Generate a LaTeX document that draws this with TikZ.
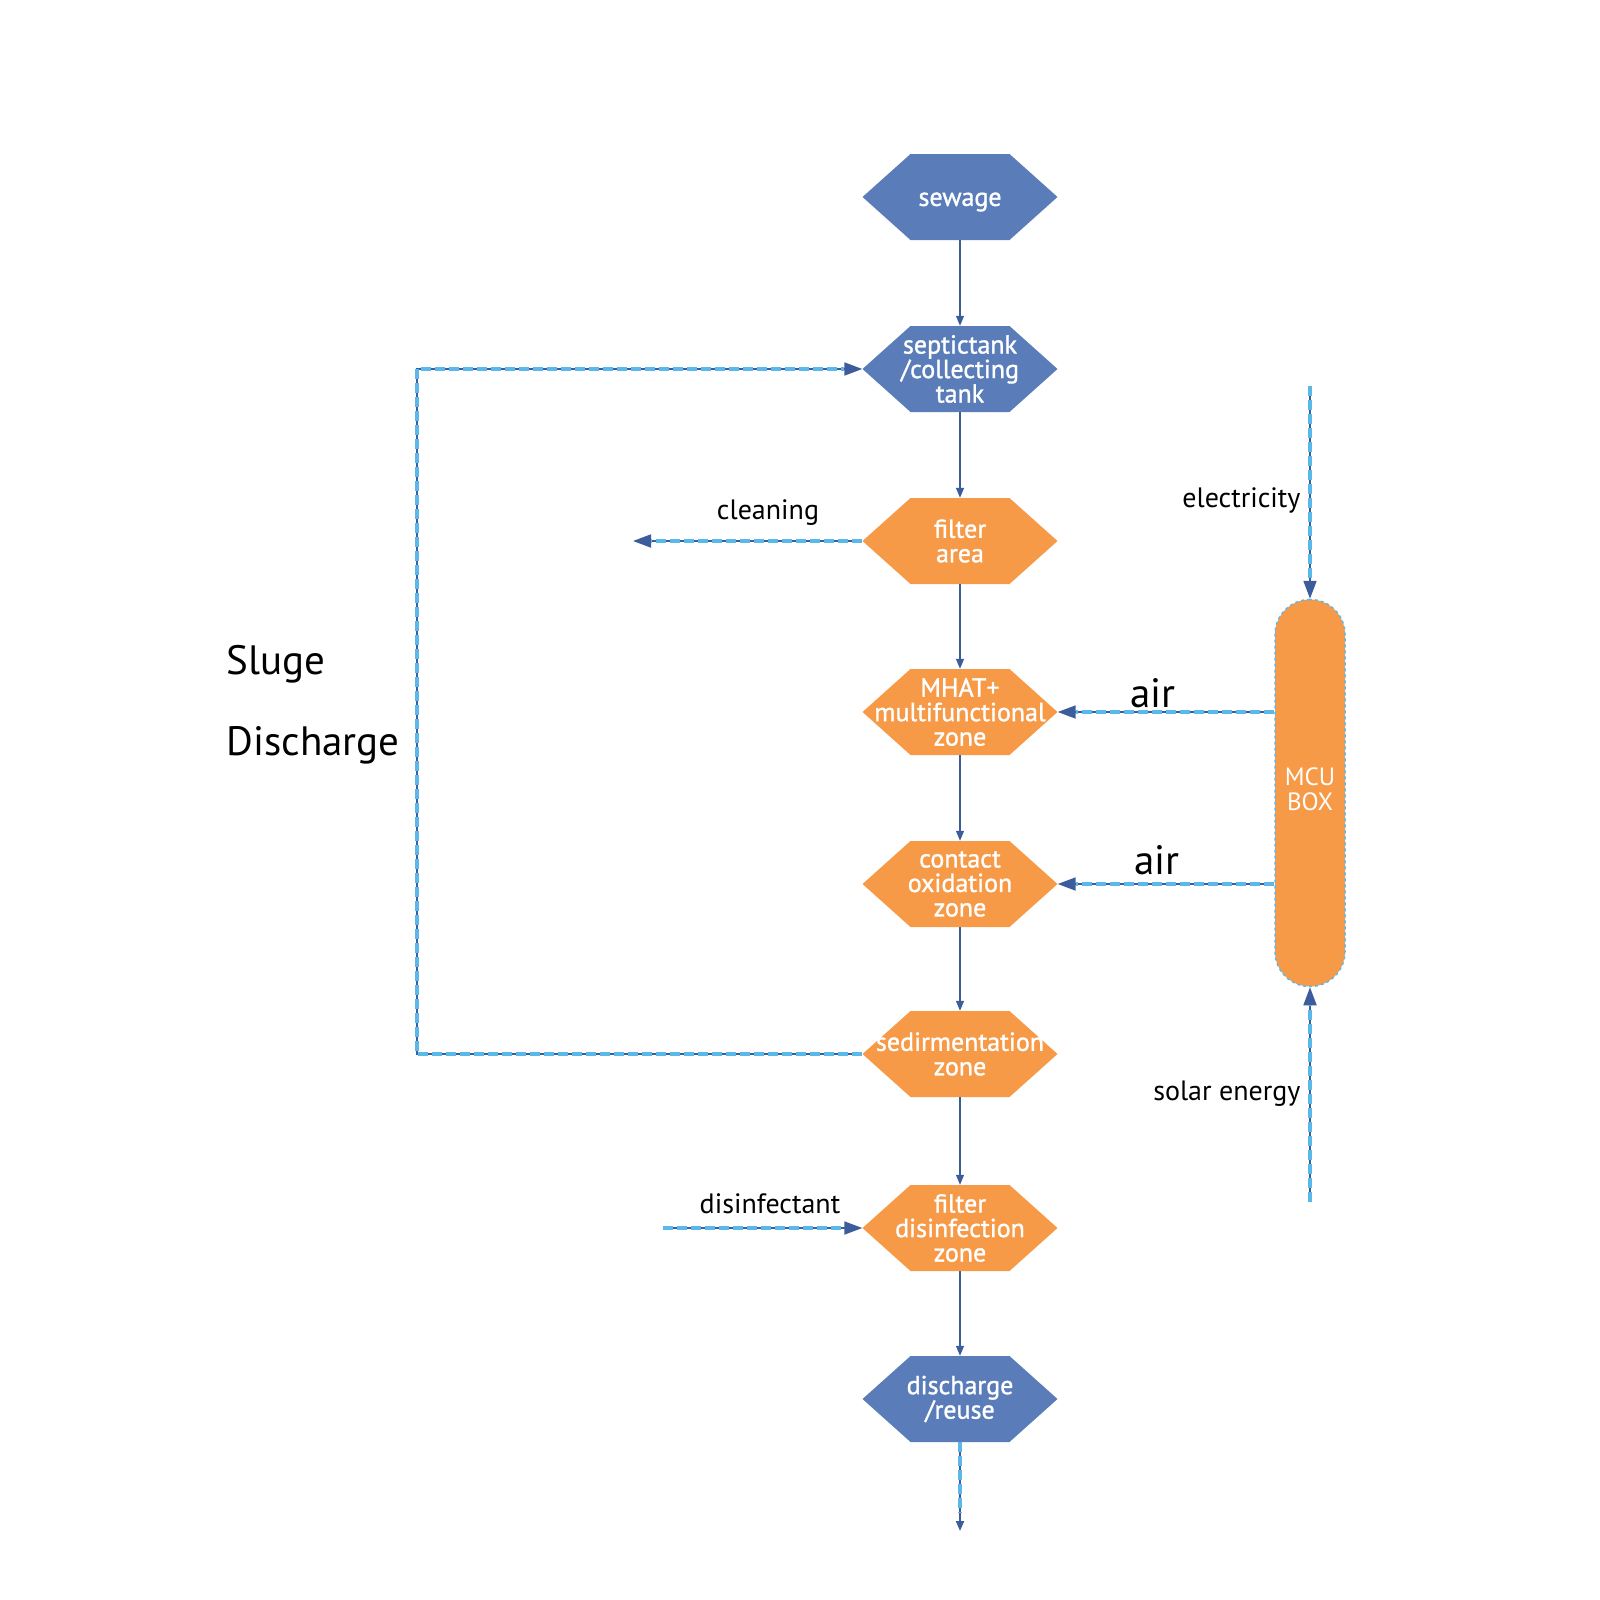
\documentclass[tikz,border=0pt]{standalone}
\usepackage{fontspec}
\setmainfont{PT Sans}
\newfontfamily\hexfont[FakeBold=1.2]{PT Sans}
\usetikzlibrary{arrows.meta,positioning}
\definecolor{hexblue}{HTML}{5A7DB9}
\definecolor{hexorange}{HTML}{F79A48}
\definecolor{lineblue}{HTML}{3C5C9C}
\definecolor{dashblue}{HTML}{5BB9EA}
\tikzset{
  hex/.style={minimum width=195pt, minimum height=86pt, inner sep=0pt,
    text=white, align=center, font=\hexfont\fontsize{26}{24.5}\selectfont,
    path picture={\fill[#1] (path picture bounding box.west)
      -- ([xshift=48pt]path picture bounding box.north west)
      -- ([xshift=-48pt]path picture bounding box.north east)
      -- (path picture bounding box.east)
      -- ([xshift=-48pt]path picture bounding box.south east)
      -- ([xshift=48pt]path picture bounding box.south west) -- cycle;}},
  flow/.style={draw=lineblue, line width=1.2pt, -{Triangle[length=10pt,width=8pt]}},
  feed/.style={draw=lineblue, line width=1.8pt, -{Triangle[length=18pt,width=13pt]},
    postaction={draw=dashblue, line width=4pt, dash pattern=on 10pt off 4pt, -, shorten >=18pt}},
  lbl/.style={font=\fontsize{28}{30}\selectfont},
  bigl/.style={font=\fontsize{41}{44}\selectfont}
}
\begin{document}
\begin{tikzpicture}[x=1pt,y=-1pt]
\useasboundingbox (0,0) rectangle (1600,1600);
\node[hex=hexblue] (sewage) at (960,197) {\raisebox{-5pt}[\height][\depth]{sewage}};
\node[hex=hexblue] (septic) at (960,369) {septictank\\/collecting\\tank};
\node[hex=hexorange] (filter) at (960,541) {filter\\area};
\node[hex=hexorange] (mhat) at (960,712) {MHAT+\\multifunctional\\zone};
\node[hex=hexorange] (contact) at (960,884) {contact\\oxidation\\zone};
\node[hex=hexorange] (sedi) at (960,1054) {sedirmentation\\zone};
\node[hex=hexorange] (fdz) at (960,1228) {filter\\disinfection\\zone};
\node[hex=hexblue] (reuse) at (960,1399) {discharge\\/reuse};
\node[rounded corners=35pt, minimum width=70pt, minimum height=387pt, fill=hexorange,
  draw=dashblue, dashed, line width=1.5pt,
  label={[text=white, align=center, font=\fontsize{25}{24.5}\selectfont, yshift=4pt]center:MCU\\BOX}]
  (mcu) at (1310,793) {};
\coordinate (loop) at (417,1054);
\coordinate (clean) at (633,541);
\coordinate (dis) at (663,1228);
\coordinate (out) at (960,1531);
\coordinate (elec) at (1310,386);
\coordinate (solar) at (1310,1202);
\draw[flow] (sewage.south) -- (septic.north);
\draw[flow] (septic.south) -- (filter.north);
\draw[flow] (filter.south) -- (mhat.north);
\draw[flow] (mhat.south) -- (contact.north);
\draw[flow] (contact.south) -- (sedi.north);
\draw[flow] (sedi.south) -- (fdz.north);
\draw[flow] (fdz.south) -- (reuse.north);
\draw[feed] (sedi.west) -- (loop) |- (septic.west);
\draw[feed] (filter.west) -- (clean);
\draw[feed] (dis) -- (fdz.west);
\draw[feed, -{Triangle[length=10pt,width=8pt]}] (reuse.south) -- (out);
\draw[feed] (mcu.west |- mhat.east) -- (mhat.east);
\draw[feed] (mcu.west |- contact.east) -- (contact.east);
\draw[feed] (elec) -- (mcu.north);
\draw[feed] (solar) -- (mcu.south);
\node[lbl] (cleaning) at (768,513) {cleaning};
\node[lbl, anchor=east] (electricity) at (1304,500) {electricity};
\node[lbl, anchor=east] (solartext) at (1304,1094) {solar energy};
\node[lbl] (disinfectant) at (770,1204) {disinfectant};
\node[bigl] (air1) at (1153,693) {air};
\node[bigl] (air2) at (1157,860) {air};
\node[bigl, anchor=west] (sluge) at (223,664) {Sluge};
\node[bigl, anchor=west] (discharge) at (223,745) {Discharge};
\end{tikzpicture}
\end{document}
